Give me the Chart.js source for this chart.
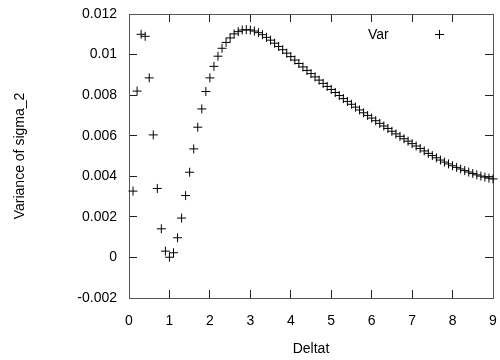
<!DOCTYPE html>
<html>
<head>
<meta charset="utf-8">
<script src="https://cdn.jsdelivr.net/npm/chart.js@4/dist/chart.umd.min.js"></script>
<style>
html,body{margin:0;padding:0;background:#fff;}
#wrap{width:500px;height:360px;}
</style>
</head>
<body>
<div id="wrap"><canvas id="c" width="500" height="360"></canvas></div>
<script>
const seriesName = "Var";
const xTitle = "Deltat";
const yTitle = "Variance of sigma_2";
const xValues = [0.1,0.2,0.3,0.4,0.5,0.6,0.7,0.8,0.9,1.0,
  1.1,1.2,1.3,1.4,1.5,1.6,1.7,1.8,1.9,2.0,
  2.1,2.2,2.3,2.4,2.5,2.6,2.7,2.8,2.9,3.0,
  3.1,3.2,3.3,3.4,3.5,3.6,3.7,3.8,3.9,4.0,
  4.1,4.2,4.3,4.4,4.5,4.6,4.7,4.8,4.9,5.0,
  5.1,5.2,5.3,5.4,5.5,5.6,5.7,5.8,5.9,6.0,
  6.1,6.2,6.3,6.4,6.5,6.6,6.7,6.8,6.9,7.0,
  7.1,7.2,7.3,7.4,7.5,7.6,7.7,7.8,7.9,8.0,
  8.1,8.2,8.3,8.4,8.5,8.6,8.7,8.8,8.9,9.0];
const varValues = [0.00327,0.00820,0.01100,0.01090,0.00885,0.00604,0.00340,0.00141,0.00031,0.00001,
  0.00023,0.00097,0.00194,0.00305,0.00420,0.00535,0.00642,0.00732,0.00818,0.00885,
  0.00942,0.00992,0.01031,0.01060,0.01082,0.01102,0.01113,0.01121,0.01123,0.01121,
  0.01116,0.01108,0.01098,0.01085,0.01071,0.01056,0.01040,0.01024,0.01007,0.00990,
  0.00973,0.00956,0.00939,0.00922,0.00906,0.00890,0.00874,0.00858,0.00843,0.00828,
  0.00813,0.00798,0.00783,0.00769,0.00755,0.00741,0.00727,0.00713,0.00700,0.00687,
  0.00674,0.00661,0.00648,0.00636,0.00622,0.00609,0.00597,0.00585,0.00573,0.00561,
  0.00549,0.00537,0.00525,0.00513,0.00502,0.00491,0.00480,0.00470,0.00461,0.00452,
  0.00444,0.00436,0.00428,0.00421,0.00414,0.00407,0.00401,0.00396,0.00391,0.00387];
const xTickLabels = ["0","1","2","3","4","5","6","7","8","9"];
const yTickLabels = ["-0.002","0","0.002","0.004","0.006","0.008","0.01","0.012"];

const FONT = "'Liberation Sans', Arial, Helvetica, sans-serif";
const points = xValues.map((x, i) => ({x: x, y: varValues[i]}));

const legendPlugin = {
  id: 'gnuKey',
  afterDraw(chart) {
    const ctx = chart.ctx;
    ctx.save();
    ctx.font = "14px " + FONT;
    ctx.fillStyle = "#000";
    ctx.textAlign = "left";
    ctx.textBaseline = "middle";
    ctx.fillText(seriesName, 368, 35);
    const cx = 439.5, cy = 34.5, r = 4.5;
    ctx.strokeStyle = "#000";
    ctx.lineWidth = 1;
    ctx.beginPath();
    ctx.moveTo(cx - r, cy); ctx.lineTo(cx + r, cy);
    ctx.moveTo(cx, cy - r); ctx.lineTo(cx, cy + r);
    ctx.stroke();
    ctx.restore();
  }
};

const gridCommon = { drawOnChartArea: false, tickLength: -8, color: "#222", lineWidth: 1 };
const borderCommon = { color: "#555", width: 1 };
const noPad = s => { s.paddingLeft = 0; s.paddingRight = 0; s.paddingTop = 0; s.paddingBottom = 0; };

new Chart(document.getElementById('c'), {
  type: 'scatter',
  data: {
    datasets: [{
      label: seriesName,
      data: points,
      showLine: false,
      pointStyle: 'cross',
      pointRadius: 4.5,
      pointHoverRadius: 4.5,
      pointBorderWidth: 1,
      borderColor: '#000',
      backgroundColor: '#000',
      clip: false
    }]
  },
  options: {
    responsive: false,
    animation: false,
    events: [],
    layout: { padding: { left: 0, top: 14, right: 7, bottom: 0 } },
    plugins: { legend: { display: false }, tooltip: { enabled: false } },
    scales: {
      x: {
        type: 'linear', position: 'bottom', min: 0, max: 9,
        ticks: { stepSize: 1, padding: 23, color: '#000', font: { family: FONT, size: 14 },
          callback: (v, i) => xTickLabels[i] },
        grid: gridCommon, border: borderCommon,
        title: { display: true, text: xTitle, color: '#000', font: { family: FONT, size: 14 }, padding: { top: 0, bottom: 2 } },
        afterFit: s => { s.height = 62; noPad(s); }
      },
      x2: {
        type: 'linear', position: 'top', min: 0, max: 9,
        ticks: { stepSize: 1, display: false },
        grid: gridCommon, border: borderCommon,
        afterFit: s => { s.height = 0; noPad(s); }
      },
      y: {
        type: 'linear', position: 'left', min: -0.002, max: 0.012,
        ticks: { stepSize: 0.002, padding: 20, color: '#000', font: { family: FONT, size: 14 },
          callback: (v, i) => yTickLabels[i] },
        grid: gridCommon, border: borderCommon,
        title: { display: true, text: yTitle, color: '#000', font: { family: FONT, size: 14 }, padding: { top: 12, bottom: 0 } },
        afterFit: s => { s.width = 129; noPad(s); }
      },
      y2: {
        type: 'linear', position: 'right', min: -0.002, max: 0.012,
        ticks: { stepSize: 0.002, display: false },
        grid: gridCommon, border: borderCommon,
        afterFit: s => { s.width = 0; noPad(s); }
      }
    }
  },
  plugins: [legendPlugin]
});
</script>
</body>
</html>
